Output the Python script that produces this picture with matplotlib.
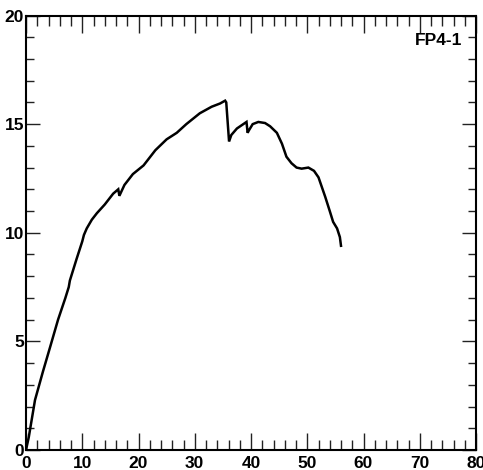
import matplotlib
matplotlib.use("Agg")
import matplotlib.pyplot as plt
from matplotlib.ticker import MultipleLocator

plt.rcParams['font.family'] = ['Liberation Sans', 'DejaVu Sans']

# Load-displacement trace for specimen FP4-1
displacement = [0, 0.5, 1.6, 3.0, 4.3, 5.7, 7.0, 7.6, 7.8, 9.0, 10.0, 10.3, 10.8,
                11.7, 12.6, 14.0, 15.5, 16.4, 16.6, 17.5, 19.0, 20.9, 23.0, 25.0,
                26.8, 28.5, 30.9, 33.0, 34.5, 35.4, 35.6, 36.1, 36.5, 37.5, 39.2,
                39.4, 39.6, 40.3, 41.3, 42.5, 43.4, 44.6, 45.5, 46.3, 47.2, 48.1,
                49.0, 50.2, 51.2, 52.0, 53.2, 54.0, 54.6, 55.3, 55.8, 56.0]
load = [0, 0.6, 2.3, 3.6, 4.75, 6.0, 7.0, 7.5, 7.8, 8.8, 9.6, 9.9, 10.2,
        10.6, 10.9, 11.3, 11.8, 12.0, 11.7, 12.2, 12.7, 13.1, 13.8, 14.3,
        14.6, 15.0, 15.5, 15.8, 15.95, 16.08, 16.0, 14.2, 14.5, 14.8, 15.1,
        14.6, 14.7, 15.0, 15.1, 15.05, 14.9, 14.6, 14.1, 13.5, 13.2, 13.0,
        12.95, 13.0, 12.85, 12.55, 11.65, 11.0, 10.5, 10.2, 9.8, 9.4]

x_ticks = [0, 10, 20, 30, 40, 50, 60, 70, 80]
y_ticks = [0, 5, 10, 15, 20]
label = "FP4-1"

fig = plt.figure(figsize=(4.83, 4.70), dpi=100)
ax = fig.add_axes([26 / 483, 20 / 470, 450 / 483, 434.5 / 470])

ax.plot(displacement, load, color='black', lw=1.8, solid_joinstyle='miter')

ax.set_xlim(0, 80)
ax.set_ylim(0, 20)
ax.set_xticks(x_ticks)
ax.set_yticks(y_ticks)
ax.xaxis.set_minor_locator(MultipleLocator(2))
ax.yaxis.set_minor_locator(MultipleLocator(1))

for s in ax.spines.values():
    s.set_linewidth(1.5)
    s.set_color('black')

tick_color = '#222222'
ax.xaxis.set_tick_params(which='major', direction='in', length=12, width=1.0,
                         color=tick_color, top=True, bottom=True, pad=4)
ax.xaxis.set_tick_params(which='minor', direction='in', length=7, width=1.0,
                         color=tick_color, top=True, bottom=True)
ax.yaxis.set_tick_params(which='major', direction='in', length=10, width=1.0,
                         color=tick_color, left=True, right=True, pad=1.5)
ax.yaxis.set_tick_params(which='minor', direction='in', length=6, width=1.0,
                         color=tick_color, left=True, right=True)

for t in ax.get_xticklabels() + ax.get_yticklabels():
    t.set_fontsize(12.5)
    t.set_fontweight('bold')

ax.text(0.969, 0.9436, label, transform=ax.transAxes, ha='right', va='center',
        fontsize=12.5, fontweight='bold')

fig.savefig("out.png", dpi=100)
